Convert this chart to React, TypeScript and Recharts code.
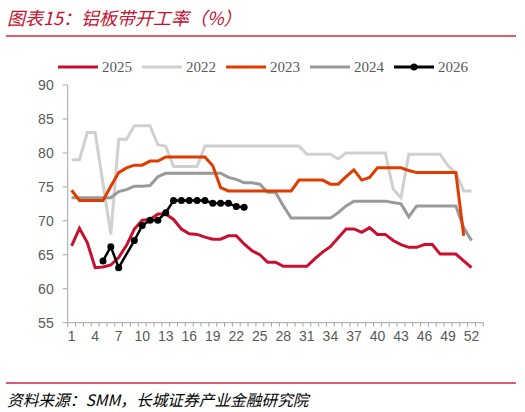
import { LineChart, Line, XAxis, YAxis } from "recharts";

const weeks = [
  "1", "2", "3", "4", "5", "6", "7", "8", "9", "10", "11", "12", "13", "14", "15", "16", "17", "18",
  "19", "20", "21", "22", "23", "24", "25", "26", "27", "28", "29", "30", "31", "32", "33", "34", "35",
  "36", "37", "38", "39", "40", "41", "42", "43", "44", "45", "46", "47", "48", "49", "50", "51", "52", "53",
];

const y2025 = [
  66.3, 68.9, 66.8, 63.1, 63.2, 63.5, 64.6, 66.4, 68.8, 70.1, 70.2, 71.0, 71.0, 70.2, 68.8, 68.1, 68.0,
  67.6, 67.3, 67.3, 67.8, 67.8, 66.6, 65.6, 65.0, 63.9, 63.9, 63.3, 63.3, 63.3, 63.3, 64.4, 65.4, 66.2,
  67.5, 68.8, 68.8, 68.3, 69.0, 68.0, 68.0, 67.1, 66.5, 66.1, 66.1, 66.5, 66.5, 65.1, 65.1, 65.1, 64.1, 63.1,
];

const y2022 = [
  79, 79, 83, 83, 75.5, 68, 82, 82, 84, 84, 84, 81.2, 81, 78, 78, 78, 78,
  81, 81, 81, 81, 81, 81, 81, 81, 81, 81, 81, 81, 81,
  79.8, 79.8, 79.8, 79.8, 79.1, 80, 80, 80, 80, 80, 80, 74.7, 73.4,
  79.8, 79.8, 79.8, 79.8, 79.8, 78.1, 77.1, 74.4, 74.4,
];

const y2023 = [
  74.5, 73, 73, 73, 73, 75.1, 77.1, 77.8, 78.2, 78.2, 78.8, 78.8, 79.4, 79.4, 79.4, 79.4, 79.4, 79.4,
  78.1, 74.9, 74.4, 74.4, 74.4, 74.4, 74.4, 74.4, 74.4, 74.4, 74.4, 76, 76, 76, 76, 75.4, 75.4,
  76.5, 77.5, 76, 76.4, 77.8, 77.8, 77.8, 77.8, 77.4, 77.1, 77.1, 77.1, 77.1, 77.1, 77.1, 67.8, null,
];

const y2024 = [
  73.4, 73.4, 73.4, 73.4, 73.4, 73.4, 74.3, 74.6, 75.1, 75.1, 75.2, 76.5, 77, 77, 77, 77, 77, 77, 77, 77,
  76.4, 76.1, 75.6, 75.6, 75.4, 74.2, 74.2, 72.2, 70.4, 70.4, 70.4, 70.4, 70.4, 70.4, 71.2, 72.2,
  72.9, 72.9, 72.9, 72.9, 72.9, 72.7, 72.5, 70.6, 72.2, 72.2, 72.2, 72.2, 72.2, 72.2, 69, 67.1,
];

const y2026 = [
  null, null, null, null, 64.1, 66.2, 63.1, null, 67.1, 69.3, 70.1, 70.1, 71.2, 73, 73, 73, 73, 73,
  72.6, 72.6, 72.6, 72.1, 72.0,
];

const yTicks = [55, 60, 65, 70, 75, 80, 85, 90];

const legendItems = [
  { name: "2025", color: "#C8102E", dot: false },
  { name: "2022", color: "#D0D0D0", dot: false },
  { name: "2023", color: "#E03C00", dot: false },
  { name: "2024", color: "#999999", dot: false },
  { name: "2026", color: "#000000", dot: true },
];

const data = weeks.map((w, i) => ({
  week: w,
  y2025: y2025[i] ?? null,
  y2022: y2022[i] ?? null,
  y2023: y2023[i] ?? null,
  y2024: y2024[i] ?? null,
  y2026: y2026[i] ?? null,
}));

const PLOT_W = 483.3 - 67.7;
const BAND = PLOT_W / weeks.length;
const AXIS_GRAY = "#A6A6A6";
const TEXT_GRAY = "#595959";

function WeekTick(props: any) {
  const { x, y, index } = props;
  const left = x - BAND / 2;
  return (
    <g>
      <line x1={left} y1={y} x2={left} y2={y + 4} stroke={AXIS_GRAY} strokeWidth={1} />
      {index === weeks.length - 1 && (
        <line x1={x + BAND / 2} y1={y} x2={x + BAND / 2} y2={y + 4} stroke={AXIS_GRAY} strokeWidth={1} />
      )}
      {index % 3 === 0 && index < 52 && (
        <text x={x} y={y + 18} textAnchor="middle" fill={TEXT_GRAY} fontSize={14} fontFamily="'Liberation Sans', Arial, sans-serif">
          {props.payload.value}
        </text>
      )}
    </g>
  );
}

export default function App() {
  return (
    <div style={{ position: "absolute", left: 0, top: 0, width: 525, height: 412, background: "#fff", overflow: "hidden" }}>
      <div
        style={{
          position: "absolute",
          left: 7,
          top: 5,
          fontSize: 18,
          fontStyle: "italic",
          color: "#C8102E",
          fontFamily: "'Noto Sans CJK SC', 'Noto Sans', sans-serif",
          lineHeight: "24px",
          whiteSpace: "nowrap",
        }}
      >
        图表15：铝板带开工率（%）
      </div>
      <div style={{ position: "absolute", left: 6, top: 35, width: 510, height: 1.5, background: "#E25A6E" }} />

      <div
        style={{
          position: "absolute",
          left: 58,
          top: 58,
          display: "flex",
          alignItems: "center",
          fontFamily: "'Liberation Serif', 'Times New Roman', serif",
          fontSize: 15,
          color: TEXT_GRAY,
          whiteSpace: "nowrap",
          height: 18,
        }}
      >
        {legendItems.map((it) => (
          <div key={it.name} style={{ display: "flex", alignItems: "center", marginRight: 10 }}>
            <svg width={40} height={10} style={{ marginRight: 4 }}>
              <line x1={0} y1={5} x2={40} y2={5} stroke={it.color} strokeWidth={3} />
              {it.dot && <circle cx={20} cy={5} r={3.5} fill={it.color} />}
            </svg>
            <span>{it.name}</span>
          </div>
        ))}
      </div>

      <div style={{ position: "absolute", left: 0, top: 0 }}>
        <LineChart width={525} height={412} data={data} margin={{ top: 85, right: 41.7, bottom: 59.3, left: 7.7 }}>
          <XAxis
            dataKey="week"
            scale="band"
            interval={0}
            tick={<WeekTick />}
            tickLine={false}
            tickSize={0}
            tickMargin={0}
            height={30}
            axisLine={{ stroke: AXIS_GRAY }}
          />
          <YAxis
            width={60}
            domain={[55, 90]}
            ticks={yTicks}
            interval={0}
            tickSize={5}
            tickMargin={9}
            tickLine={{ stroke: AXIS_GRAY }}
            axisLine={{ stroke: AXIS_GRAY }}
            tick={{ fill: TEXT_GRAY, fontSize: 14, fontFamily: "'Liberation Sans', Arial, sans-serif" }}
          />
          <Line dataKey="y2022" stroke="#D0D0D0" strokeWidth={3} dot={false} isAnimationActive={false} />
          <Line dataKey="y2024" stroke="#999999" strokeWidth={3} dot={false} isAnimationActive={false} />
          <Line dataKey="y2023" stroke="#E03C00" strokeWidth={3} dot={false} isAnimationActive={false} />
          <Line dataKey="y2025" stroke="#C8102E" strokeWidth={3} dot={false} isAnimationActive={false} />
          <Line
            dataKey="y2026"
            stroke="#000000"
            strokeWidth={2.5}
            connectNulls
            dot={{ r: 3.5, fill: "#000000", stroke: "#000000", strokeWidth: 0 }}
            isAnimationActive={false}
          />
        </LineChart>
      </div>

      <div style={{ position: "absolute", left: 6, top: 382, width: 510, height: 1.5, background: "#E25A6E" }} />
      <div
        style={{
          position: "absolute",
          left: 7,
          top: 389,
          fontSize: 15.7,
          fontStyle: "italic",
          color: "#000",
          fontFamily: "'Noto Sans CJK SC', 'Noto Sans', sans-serif",
          lineHeight: "22px",
          whiteSpace: "nowrap",
        }}
      >
        资料来源：SMM，长城证券产业金融研究院
      </div>
    </div>
  );
}
